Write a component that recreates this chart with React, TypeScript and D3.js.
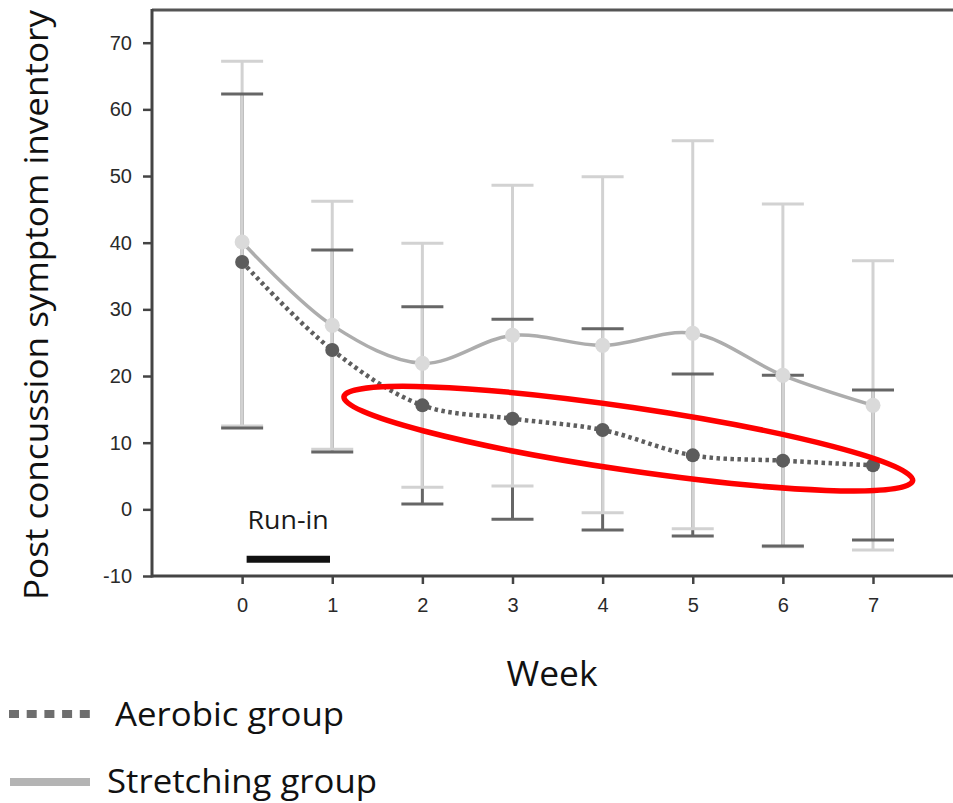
import React, { useEffect, useRef } from "react";
import * as d3 from "d3";

const weeks = [0, 1, 2, 3, 4, 5, 6, 7];
const aerobicMean = [37.1, 23.9, 15.6, 13.6, 11.9, 8.1, 7.3, 6.6];
const aerobicUpper = [62.3, 38.9, 30.4, 28.5, 27.1, 20.3, 20.1, 17.9];
const aerobicLower = [12.2, 8.6, 0.8, -1.5, -3.1, -4.0, -5.5, -4.6];
const stretchMean = [40.1, 27.6, 21.9, 26.1, 24.6, 26.4, 20.1, 15.6];
const stretchUpper = [67.2, 46.2, 39.9, 48.6, 49.9, 55.3, 45.8, 37.3];
const stretchLower = [12.5, 9.0, 3.3, 3.5, -0.5, -2.9, -5.6, -6.1];
const yTicks = [-10, 0, 10, 20, 30, 40, 50, 60, 70];
const runInWeeks = [0.05, 0.975];
const runInLevel = -7.5;
// red ellipse drawn round the aerobic weeks 2-7 (ends in week / score units)
const highlightEnds = [
  [1.13, 16.9],
  [7.44, 4.3],
];

export default function App() {
  const ref = useRef<SVGSVGElement>(null);

  useEffect(() => {
    const width = 953;
    const height = 803;
    const svg = d3.select(ref.current);
    svg.selectAll("*").remove();

    const x = d3.scaleLinear().domain([-1, 7]).range([152, 873]);
    const y = d3.scaleLinear().domain([-10, 70]).range([576, 42.7]);

    const dark = "#666";
    const light = "#d2d2d2";

    // frame: top line and axes
    svg.append("line")
      .attr("x1", 152).attr("x2", width).attr("y1", 10).attr("y2", 10)
      .attr("stroke", "#555").attr("stroke-width", 3);

    const yAxis = svg.append("g")
      .attr("transform", `translate(${x(-1)},0)`)
      .call(d3.axisLeft(y).tickValues(yTicks).tickFormat((d) => String(d)).tickSize(9).tickPadding(11).tickSizeOuter(0));
    yAxis.select(".domain").remove();
    yAxis.append("line")
      .attr("x1", 0).attr("x2", 0).attr("y1", 9).attr("y2", y(-10) + 1.5)
      .attr("stroke", "#444").attr("stroke-width", 3);

    const xAxis = svg.append("g")
      .attr("transform", `translate(0,${y(-10)})`)
      .call(d3.axisBottom(x).tickValues(weeks).tickFormat((d) => String(d)).tickSize(8).tickPadding(14));
    xAxis.select(".domain").remove();
    xAxis.append("line")
      .attr("x1", x(-1)).attr("x2", width).attr("y1", 0).attr("y2", 0)
      .attr("stroke", "#444").attr("stroke-width", 3);

    [yAxis, xAxis].forEach((g) => {
      g.selectAll(".tick line").attr("stroke", "#444").attr("stroke-width", 2.5);
      g.selectAll(".tick text")
        .attr("fill", "#2a2a2a")
        .style("font-family", "'Liberation Sans', Arial, sans-serif")
        .style("font-size", "20px");
    });

    const capW = 21;

    // aerobic error bars (dark) sit underneath the stretching ones
    svg.append("g").selectAll("line")
      .data(weeks).enter().append("line")
      .attr("x1", (d) => x(d)).attr("x2", (d) => x(d))
      .attr("y1", (_, i) => y(aerobicUpper[i])).attr("y2", (_, i) => y(aerobicLower[i]))
      .attr("stroke", dark).attr("stroke-width", 3);

    svg.append("g").selectAll("line")
      .data(weeks).enter().append("line")
      .attr("x1", (d) => x(d)).attr("x2", (d) => x(d))
      .attr("y1", (_, i) => y(stretchUpper[i])).attr("y2", (_, i) => y(stretchLower[i]))
      .attr("stroke", light).attr("stroke-width", 3);

    const caps = (vals: number[], color: string) => {
      svg.append("g").selectAll("line")
        .data(weeks).enter().append("line")
        .attr("x1", (d) => x(d) - capW).attr("x2", (d) => x(d) + capW)
        .attr("y1", (_, i) => y(vals[i])).attr("y2", (_, i) => y(vals[i]))
        .attr("stroke", color).attr("stroke-width", 3);
    };
    caps(stretchUpper, light);
    caps(stretchLower, light);
    caps(aerobicUpper, dark);
    caps(aerobicLower, dark);

    const line = (vals: number[]) =>
      d3.line<number>()
        .x((d) => x(d))
        .y((_, i) => y(vals[i]))
        .curve(d3.curveCatmullRom.alpha(0.5))(weeks);

    svg.append("path")
      .attr("d", line(stretchMean))
      .attr("fill", "none").attr("stroke", "#adadad").attr("stroke-width", 3.5);

    svg.append("path")
      .attr("d", line(aerobicMean))
      .attr("fill", "none").attr("stroke", "#5e5e5e").attr("stroke-width", 4.5)
      .attr("stroke-dasharray", "3.5 3.5");

    svg.append("g").selectAll("circle")
      .data(weeks).enter().append("circle")
      .attr("cx", (d) => x(d)).attr("cy", (_, i) => y(stretchMean[i]))
      .attr("r", 7.5).attr("fill", "#dadada");

    svg.append("g").selectAll("circle")
      .data(weeks).enter().append("circle")
      .attr("cx", (d) => x(d)).attr("cy", (_, i) => y(aerobicMean[i]))
      .attr("r", 7).attr("fill", "#5c5c5c");

    // run-in marker
    svg.append("line")
      .attr("x1", x(runInWeeks[0])).attr("x2", x(runInWeeks[1]))
      .attr("y1", y(runInLevel)).attr("y2", y(runInLevel))
      .attr("stroke", "#111").attr("stroke-width", 7);
    svg.append("text")
      .attr("x", x(runInWeeks[0]) + 1).attr("y", 529)
      .attr("textLength", 81).attr("lengthAdjust", "spacingAndGlyphs")
      .style("font-family", "'Open Sans', sans-serif").style("font-size", "25px")
      .attr("fill", "#1a1a1a").text("Run-in");

    // red highlight ellipse
    const [p0, p1] = highlightEnds.map(([w, v]) => [x(w), y(v)]);
    const cx = (p0[0] + p1[0]) / 2;
    const cy = (p0[1] + p1[1]) / 2;
    const rx = Math.hypot(p1[0] - p0[0], p1[1] - p0[1]) / 2;
    const angle = (Math.atan2(p1[1] - p0[1], p1[0] - p0[0]) * 180) / Math.PI;
    svg.append("ellipse")
      .attr("transform", `translate(${cx},${cy}) rotate(${angle})`)
      .attr("rx", rx).attr("ry", 31.5)
      .attr("fill", "none").attr("stroke", "#ff0000").attr("stroke-width", 5.5);

    // axis titles
    svg.append("text")
      .attr("transform", "translate(48,305) rotate(-90)")
      .attr("text-anchor", "middle")
      .attr("textLength", 590).attr("lengthAdjust", "spacingAndGlyphs")
      .style("font-family", "'Open Sans', sans-serif").style("font-size", "33px")
      .attr("fill", "#111").text("Post concussion symptom inventory");

    svg.append("text")
      .attr("x", 552).attr("y", 686)
      .attr("text-anchor", "middle")
      .attr("textLength", 91).attr("lengthAdjust", "spacingAndGlyphs")
      .style("font-family", "'Open Sans', sans-serif").style("font-size", "35px")
      .attr("fill", "#111").text("Week");

    // legend
    const legend = [
      { label: "Aerobic group", y: 714, tx: 115, tl: 229, base: 726 },
      { label: "Stretching group", y: 782, tx: 107, tl: 270, base: 793 },
    ];
    svg.append("line")
      .attr("x1", 9).attr("x2", 90).attr("y1", legend[0].y).attr("y2", legend[0].y)
      .attr("stroke", "#6e6e6e").attr("stroke-width", 8)
      .attr("stroke-dasharray", "10 7.7");
    svg.append("line")
      .attr("x1", 10).attr("x2", 90).attr("y1", legend[1].y).attr("y2", legend[1].y)
      .attr("stroke", "#b4b4b4").attr("stroke-width", 8);
    svg.append("g").selectAll("text")
      .data(legend).enter().append("text")
      .attr("x", (d) => d.tx).attr("y", (d) => d.base)
      .attr("textLength", (d) => d.tl).attr("lengthAdjust", "spacingAndGlyphs")
      .style("font-family", "'Open Sans', sans-serif").style("font-size", "32px")
      .attr("fill", "#111").text((d) => d.label);

    svg.attr("width", width).attr("height", height);
  }, []);

  return (
    <svg
      ref={ref}
      width={953}
      height={803}
      style={{ position: "absolute", left: 0, top: 0, background: "#fff", display: "block" }}
    />
  );
}
